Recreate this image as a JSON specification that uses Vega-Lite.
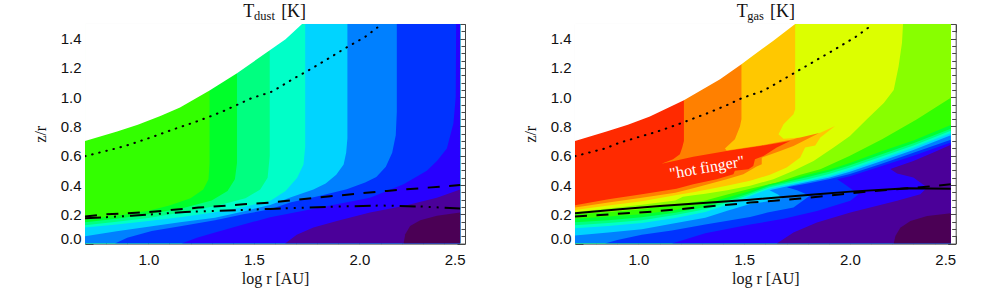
{"$schema":"https://vega.github.io/schema/vega-lite/v6.json","background":"white","padding":{"left":32,"top":2,"right":0,"bottom":0},"bounds":"flush","spacing":110,"resolve":{"scale":{"color":"independent"}},"config":{"view":{"stroke":null},"axis":{"grid":false,"domainColor":"#444","tickColor":"#444","domainWidth":1,"tickWidth":1,"labelFont":"Liberation Sans","labelFontSize":15,"labelColor":"#111","titleFont":"Liberation Serif","titleFontSize":16,"titleFontWeight":"normal","titleColor":"#111","zindex":1}},
"datasets":{
"dustAreas":[
{"level":"d0","o":1,"x":0.7,"y":0},{"level":"d0","o":2,"x":2.477,"y":0},{"level":"d0","o":3,"x":2.477,"y":1.5},{"level":"d0","o":4,"x":0.7,"y":1.5},
{"level":"d1","o":1,"x":1.29,"y":1.5},{"level":"d1","o":2,"x":1.29,"y":0.55},{"level":"d1","o":3,"x":1.285,"y":0.44},{"level":"d1","o":4,"x":1.26,"y":0.37},{"level":"d1","o":5,"x":1.2,"y":0.31},{"level":"d1","o":6,"x":1.1,"y":0.26},{"level":"d1","o":7,"x":1.0,"y":0.225},{"level":"d1","o":8,"x":0.85,"y":0.19},{"level":"d1","o":9,"x":0.7,"y":0.165},{"level":"d1","o":10,"x":0.7,"y":0},{"level":"d1","o":11,"x":2.477,"y":0},{"level":"d1","o":12,"x":2.477,"y":1.5},
{"level":"d2","o":1,"x":1.42,"y":1.5},{"level":"d2","o":2,"x":1.42,"y":0.55},{"level":"d2","o":3,"x":1.41,"y":0.44},{"level":"d2","o":4,"x":1.375,"y":0.36},{"level":"d2","o":5,"x":1.3,"y":0.295},{"level":"d2","o":6,"x":1.17,"y":0.245},{"level":"d2","o":7,"x":1.0,"y":0.2},{"level":"d2","o":8,"x":0.85,"y":0.17},{"level":"d2","o":9,"x":0.7,"y":0.145},{"level":"d2","o":10,"x":0.7,"y":0},{"level":"d2","o":11,"x":2.477,"y":0},{"level":"d2","o":12,"x":2.477,"y":1.5},
{"level":"d3","o":1,"x":1.575,"y":1.5},{"level":"d3","o":2,"x":1.575,"y":0.6},{"level":"d3","o":3,"x":1.565,"y":0.45},{"level":"d3","o":4,"x":1.53,"y":0.37},{"level":"d3","o":5,"x":1.46,"y":0.31},{"level":"d3","o":6,"x":1.33,"y":0.26},{"level":"d3","o":7,"x":1.17,"y":0.215},{"level":"d3","o":8,"x":1.0,"y":0.175},{"level":"d3","o":9,"x":0.85,"y":0.15},{"level":"d3","o":10,"x":0.7,"y":0.125},{"level":"d3","o":11,"x":0.7,"y":0},{"level":"d3","o":12,"x":2.477,"y":0},{"level":"d3","o":13,"x":2.477,"y":1.5},
{"level":"d4","o":1,"x":1.743,"y":1.5},{"level":"d4","o":2,"x":1.743,"y":0.66},{"level":"d4","o":3,"x":1.735,"y":0.54},{"level":"d4","o":4,"x":1.705,"y":0.45},{"level":"d4","o":5,"x":1.65,"y":0.36},{"level":"d4","o":6,"x":1.58,"y":0.295},{"level":"d4","o":7,"x":1.45,"y":0.25},{"level":"d4","o":8,"x":1.3,"y":0.21},{"level":"d4","o":9,"x":1.15,"y":0.18},{"level":"d4","o":10,"x":1.0,"y":0.155},{"level":"d4","o":11,"x":0.85,"y":0.13},{"level":"d4","o":12,"x":0.7,"y":0.11},{"level":"d4","o":13,"x":0.7,"y":0},{"level":"d4","o":14,"x":2.477,"y":0},{"level":"d4","o":15,"x":2.477,"y":1.5},
{"level":"d5","o":1,"x":1.943,"y":1.5},{"level":"d5","o":2,"x":1.943,"y":0.72},{"level":"d5","o":3,"x":1.937,"y":0.62},{"level":"d5","o":4,"x":1.925,"y":0.54},{"level":"d5","o":5,"x":1.89,"y":0.47},{"level":"d5","o":6,"x":1.84,"y":0.41},{"level":"d5","o":7,"x":1.782,"y":0.37},{"level":"d5","o":8,"x":1.672,"y":0.315},{"level":"d5","o":9,"x":1.577,"y":0.264},{"level":"d5","o":10,"x":1.45,"y":0.22},{"level":"d5","o":11,"x":1.316,"y":0.177},{"level":"d5","o":12,"x":1.15,"y":0.145},{"level":"d5","o":13,"x":1.0,"y":0.115},{"level":"d5","o":14,"x":0.85,"y":0.085},{"level":"d5","o":15,"x":0.7,"y":0.05},{"level":"d5","o":16,"x":0.7,"y":0},{"level":"d5","o":17,"x":2.477,"y":0},{"level":"d5","o":18,"x":2.477,"y":1.5},
{"level":"d6","o":1,"x":2.177,"y":1.5},{"level":"d6","o":2,"x":2.177,"y":0.9},{"level":"d6","o":3,"x":2.172,"y":0.74},{"level":"d6","o":4,"x":2.155,"y":0.62},{"level":"d6","o":5,"x":2.125,"y":0.525},{"level":"d6","o":6,"x":2.08,"y":0.455},{"level":"d6","o":7,"x":2.027,"y":0.417},{"level":"d6","o":8,"x":1.94,"y":0.371},{"level":"d6","o":9,"x":1.814,"y":0.326},{"level":"d6","o":10,"x":1.672,"y":0.28},{"level":"d6","o":11,"x":1.577,"y":0.235},{"level":"d6","o":12,"x":1.45,"y":0.2},{"level":"d6","o":13,"x":1.316,"y":0.16},{"level":"d6","o":14,"x":1.158,"y":0.12},{"level":"d6","o":15,"x":1.016,"y":0.086},{"level":"d6","o":16,"x":0.9,"y":0.04},{"level":"d6","o":17,"x":0.842,"y":0},{"level":"d6","o":18,"x":2.477,"y":0},{"level":"d6","o":19,"x":2.477,"y":1.5},
{"level":"d7","o":1,"x":2.458,"y":1.5},{"level":"d7","o":2,"x":2.456,"y":1.0},{"level":"d7","o":3,"x":2.445,"y":0.82},{"level":"d7","o":4,"x":2.414,"y":0.65},{"level":"d7","o":5,"x":2.367,"y":0.565},{"level":"d7","o":6,"x":2.319,"y":0.497},{"level":"d7","o":7,"x":2.209,"y":0.405},{"level":"d7","o":8,"x":2.05,"y":0.314},{"level":"d7","o":9,"x":1.814,"y":0.246},{"level":"d7","o":10,"x":1.577,"y":0.18},{"level":"d7","o":11,"x":1.45,"y":0.13},{"level":"d7","o":12,"x":1.316,"y":0.075},{"level":"d7","o":13,"x":1.23,"y":0.04},{"level":"d7","o":14,"x":1.158,"y":0},{"level":"d7","o":15,"x":2.477,"y":0},{"level":"d7","o":16,"x":2.477,"y":1.5},
{"level":"d8","o":1,"x":1.648,"y":0},{"level":"d8","o":2,"x":1.703,"y":0.06},{"level":"d8","o":3,"x":1.782,"y":0.11},{"level":"d8","o":4,"x":1.893,"y":0.155},{"level":"d8","o":5,"x":2.05,"y":0.212},{"level":"d8","o":6,"x":2.209,"y":0.257},{"level":"d8","o":7,"x":2.367,"y":0.314},{"level":"d8","o":8,"x":2.477,"y":0.37},{"level":"d8","o":9,"x":2.477,"y":0},
{"level":"d9","o":1,"x":2.209,"y":0},{"level":"d9","o":2,"x":2.217,"y":0.064},{"level":"d9","o":3,"x":2.24,"y":0.12},{"level":"d9","o":4,"x":2.288,"y":0.16},{"level":"d9","o":5,"x":2.367,"y":0.19},{"level":"d9","o":6,"x":2.477,"y":0.212},{"level":"d9","o":7,"x":2.477,"y":0},
{"level":"void","o":1,"x":0.7,"y":0.7},{"level":"void","o":2,"x":0.852,"y":0.765},{"level":"void","o":3,"x":0.95,"y":0.812},{"level":"void","o":4,"x":1.057,"y":0.872},{"level":"void","o":5,"x":1.15,"y":0.93},{"level":"void","o":6,"x":1.29,"y":1.045},{"level":"void","o":7,"x":1.42,"y":1.164},{"level":"void","o":8,"x":1.577,"y":1.322},{"level":"void","o":9,"x":1.65,"y":1.395},{"level":"void","o":10,"x":1.728,"y":1.5},{"level":"void","o":11,"x":0.7,"y":1.5}
],
"gasAreas":[
{"level":"g0","o":1,"x":0.7,"y":0},{"level":"g0","o":2,"x":2.477,"y":0},{"level":"g0","o":3,"x":2.477,"y":1.5},{"level":"g0","o":4,"x":0.7,"y":1.5},
{"level":"g1","o":1,"x":1.215,"y":1.5},{"level":"g1","o":2,"x":1.215,"y":0.7},{"level":"g1","o":3,"x":1.207,"y":0.656},{"level":"g1","o":4,"x":1.196,"y":0.61},{"level":"g1","o":5,"x":1.164,"y":0.576},{"level":"g1","o":6,"x":1.109,"y":0.546},{"level":"g1","o":7,"x":1.259,"y":0.594},{"level":"g1","o":8,"x":1.417,"y":0.633},{"level":"g1","o":9,"x":1.575,"y":0.667},{"level":"g1","o":10,"x":1.717,"y":0.7},{"level":"g1","o":11,"x":1.654,"y":0.656},{"level":"g1","o":12,"x":1.591,"y":0.599},{"level":"g1","o":13,"x":1.551,"y":0.576},{"level":"g1","o":14,"x":1.543,"y":0.53},{"level":"g1","o":15,"x":1.52,"y":0.508},{"level":"g1","o":16,"x":1.456,"y":0.497},{"level":"g1","o":17,"x":1.449,"y":0.474},{"level":"g1","o":18,"x":1.37,"y":0.44},{"level":"g1","o":19,"x":1.259,"y":0.405},{"level":"g1","o":20,"x":1.18,"y":0.375},{"level":"g1","o":21,"x":1.016,"y":0.337},{"level":"g1","o":22,"x":0.858,"y":0.303},{"level":"g1","o":23,"x":0.7,"y":0.262},{"level":"g1","o":24,"x":0.7,"y":0},{"level":"g1","o":25,"x":2.477,"y":0},{"level":"g1","o":26,"x":2.477,"y":1.5},
{"level":"g2","o":1,"x":1.487,"y":1.5},{"level":"g2","o":2,"x":1.487,"y":0.85},{"level":"g2","o":3,"x":1.48,"y":0.8},{"level":"g2","o":4,"x":1.456,"y":0.713},{"level":"g2","o":5,"x":1.409,"y":0.649},{"level":"g2","o":6,"x":1.417,"y":0.636},{"level":"g2","o":7,"x":1.575,"y":0.67},{"level":"g2","o":8,"x":1.733,"y":0.712},{"level":"g2","o":9,"x":1.891,"y":0.79},{"level":"g2","o":10,"x":1.843,"y":0.747},{"level":"g2","o":11,"x":1.733,"y":0.667},{"level":"g2","o":12,"x":1.67,"y":0.633},{"level":"g2","o":13,"x":1.583,"y":0.587},{"level":"g2","o":14,"x":1.583,"y":0.542},{"level":"g2","o":15,"x":1.559,"y":0.526},{"level":"g2","o":16,"x":1.496,"y":0.474},{"level":"g2","o":17,"x":1.417,"y":0.44},{"level":"g2","o":18,"x":1.259,"y":0.378},{"level":"g2","o":19,"x":1.174,"y":0.348},{"level":"g2","o":20,"x":1.016,"y":0.314},{"level":"g2","o":21,"x":0.858,"y":0.28},{"level":"g2","o":22,"x":0.7,"y":0.246},{"level":"g2","o":23,"x":0.7,"y":0},{"level":"g2","o":24,"x":2.477,"y":0},{"level":"g2","o":25,"x":2.477,"y":1.5},
{"level":"g3","o":1,"x":1.741,"y":1.5},{"level":"g3","o":2,"x":1.741,"y":0.917},{"level":"g3","o":3,"x":1.733,"y":0.884},{"level":"g3","o":4,"x":1.686,"y":0.815},{"level":"g3","o":5,"x":1.662,"y":0.747},{"level":"g3","o":6,"x":1.686,"y":0.717},{"level":"g3","o":7,"x":1.765,"y":0.724},{"level":"g3","o":8,"x":1.86,"y":0.758},{"level":"g3","o":9,"x":1.93,"y":0.803},{"level":"g3","o":10,"x":1.86,"y":0.724},{"level":"g3","o":11,"x":1.836,"y":0.67},{"level":"g3","o":12,"x":1.788,"y":0.656},{"level":"g3","o":13,"x":1.765,"y":0.588},{"level":"g3","o":14,"x":1.701,"y":0.519},{"level":"g3","o":15,"x":1.622,"y":0.47},{"level":"g3","o":16,"x":1.528,"y":0.43},{"level":"g3","o":17,"x":1.417,"y":0.395},{"level":"g3","o":18,"x":1.259,"y":0.35},{"level":"g3","o":19,"x":1.174,"y":0.33},{"level":"g3","o":20,"x":1.016,"y":0.29},{"level":"g3","o":21,"x":0.858,"y":0.26},{"level":"g3","o":22,"x":0.7,"y":0.23},{"level":"g3","o":23,"x":0.7,"y":0},{"level":"g3","o":24,"x":2.477,"y":0},{"level":"g3","o":25,"x":2.477,"y":1.5},
{"level":"g4","o":1,"x":2.251,"y":1.5},{"level":"g4","o":2,"x":2.246,"y":1.37},{"level":"g4","o":3,"x":2.23,"y":1.21},{"level":"g4","o":4,"x":2.207,"y":1.05},{"level":"g4","o":5,"x":2.16,"y":0.96},{"level":"g4","o":6,"x":2.08,"y":0.85},{"level":"g4","o":7,"x":2.0,"y":0.735},{"level":"g4","o":8,"x":1.923,"y":0.656},{"level":"g4","o":9,"x":1.828,"y":0.565},{"level":"g4","o":10,"x":1.733,"y":0.497},{"level":"g4","o":11,"x":1.638,"y":0.44},{"level":"g4","o":12,"x":1.528,"y":0.395},{"level":"g4","o":13,"x":1.42,"y":0.365},{"level":"g4","o":14,"x":1.316,"y":0.34},{"level":"g4","o":15,"x":1.26,"y":0.33},{"level":"g4","o":16,"x":1.21,"y":0.32},{"level":"g4","o":17,"x":1.174,"y":0.295},{"level":"g4","o":18,"x":1.016,"y":0.265},{"level":"g4","o":19,"x":0.858,"y":0.24},{"level":"g4","o":20,"x":0.7,"y":0.215},{"level":"g4","o":21,"x":0.7,"y":0},{"level":"g4","o":22,"x":2.477,"y":0},{"level":"g4","o":23,"x":2.477,"y":1.5},
{"level":"g5","o":1,"x":2.477,"y":0.997},{"level":"g5","o":2,"x":2.317,"y":0.849},{"level":"g5","o":3,"x":2.152,"y":0.713},{"level":"g5","o":4,"x":2.0,"y":0.6},{"level":"g5","o":5,"x":1.86,"y":0.508},{"level":"g5","o":6,"x":1.765,"y":0.47},{"level":"g5","o":7,"x":1.65,"y":0.415},{"level":"g5","o":8,"x":1.528,"y":0.375},{"level":"g5","o":9,"x":1.42,"y":0.335},{"level":"g5","o":10,"x":1.316,"y":0.295},{"level":"g5","o":11,"x":1.174,"y":0.265},{"level":"g5","o":12,"x":1.016,"y":0.235},{"level":"g5","o":13,"x":0.858,"y":0.215},{"level":"g5","o":14,"x":0.7,"y":0.2},{"level":"g5","o":15,"x":0.7,"y":0},{"level":"g5","o":16,"x":2.477,"y":0},
{"level":"g6","o":1,"x":2.477,"y":0.81},{"level":"g6","o":2,"x":2.3,"y":0.705},{"level":"g6","o":3,"x":2.15,"y":0.63},{"level":"g6","o":4,"x":2.0,"y":0.55},{"level":"g6","o":5,"x":1.9,"y":0.505},{"level":"g6","o":6,"x":1.8,"y":0.47},{"level":"g6","o":7,"x":1.7,"y":0.43},{"level":"g6","o":8,"x":1.62,"y":0.405},{"level":"g6","o":9,"x":1.528,"y":0.36},{"level":"g6","o":10,"x":1.42,"y":0.315},{"level":"g6","o":11,"x":1.316,"y":0.27},{"level":"g6","o":12,"x":1.174,"y":0.23},{"level":"g6","o":13,"x":1.016,"y":0.2},{"level":"g6","o":14,"x":0.858,"y":0.185},{"level":"g6","o":15,"x":0.7,"y":0.17},{"level":"g6","o":16,"x":0.7,"y":0},{"level":"g6","o":17,"x":2.477,"y":0},
{"level":"g7","o":1,"x":2.477,"y":0.785},{"level":"g7","o":2,"x":2.3,"y":0.685},{"level":"g7","o":3,"x":2.15,"y":0.61},{"level":"g7","o":4,"x":2.0,"y":0.535},{"level":"g7","o":5,"x":1.9,"y":0.49},{"level":"g7","o":6,"x":1.8,"y":0.455},{"level":"g7","o":7,"x":1.7,"y":0.42},{"level":"g7","o":8,"x":1.62,"y":0.395},{"level":"g7","o":9,"x":1.528,"y":0.345},{"level":"g7","o":10,"x":1.42,"y":0.295},{"level":"g7","o":11,"x":1.316,"y":0.25},{"level":"g7","o":12,"x":1.174,"y":0.21},{"level":"g7","o":13,"x":1.016,"y":0.18},{"level":"g7","o":14,"x":0.858,"y":0.16},{"level":"g7","o":15,"x":0.7,"y":0.145},{"level":"g7","o":16,"x":0.7,"y":0},{"level":"g7","o":17,"x":2.477,"y":0},
{"level":"g8","o":1,"x":2.477,"y":0.77},{"level":"g8","o":2,"x":2.3,"y":0.67},{"level":"g8","o":3,"x":2.15,"y":0.595},{"level":"g8","o":4,"x":2.0,"y":0.52},{"level":"g8","o":5,"x":1.9,"y":0.475},{"level":"g8","o":6,"x":1.8,"y":0.44},{"level":"g8","o":7,"x":1.7,"y":0.41},{"level":"g8","o":8,"x":1.62,"y":0.385},{"level":"g8","o":9,"x":1.528,"y":0.335},{"level":"g8","o":10,"x":1.42,"y":0.28},{"level":"g8","o":11,"x":1.316,"y":0.235},{"level":"g8","o":12,"x":1.174,"y":0.195},{"level":"g8","o":13,"x":1.016,"y":0.16},{"level":"g8","o":14,"x":0.858,"y":0.14},{"level":"g8","o":15,"x":0.7,"y":0.125},{"level":"g8","o":16,"x":0.7,"y":0},{"level":"g8","o":17,"x":2.477,"y":0},
{"level":"g9","o":1,"x":2.477,"y":0.755},{"level":"g9","o":2,"x":2.3,"y":0.655},{"level":"g9","o":3,"x":2.15,"y":0.58},{"level":"g9","o":4,"x":2.0,"y":0.505},{"level":"g9","o":5,"x":1.9,"y":0.46},{"level":"g9","o":6,"x":1.8,"y":0.43},{"level":"g9","o":7,"x":1.7,"y":0.4},{"level":"g9","o":8,"x":1.62,"y":0.375},{"level":"g9","o":9,"x":1.528,"y":0.325},{"level":"g9","o":10,"x":1.42,"y":0.265},{"level":"g9","o":11,"x":1.316,"y":0.215},{"level":"g9","o":12,"x":1.174,"y":0.175},{"level":"g9","o":13,"x":1.016,"y":0.14},{"level":"g9","o":14,"x":0.858,"y":0.12},{"level":"g9","o":15,"x":0.7,"y":0.105},{"level":"g9","o":16,"x":0.7,"y":0},{"level":"g9","o":17,"x":2.477,"y":0},
{"level":"g10","o":1,"x":2.477,"y":0.74},{"level":"g10","o":2,"x":2.3,"y":0.64},{"level":"g10","o":3,"x":2.15,"y":0.565},{"level":"g10","o":4,"x":2.0,"y":0.49},{"level":"g10","o":5,"x":1.9,"y":0.45},{"level":"g10","o":6,"x":1.8,"y":0.42},{"level":"g10","o":7,"x":1.7,"y":0.39},{"level":"g10","o":8,"x":1.62,"y":0.365},{"level":"g10","o":9,"x":1.66,"y":0.335},{"level":"g10","o":10,"x":1.68,"y":0.31},{"level":"g10","o":11,"x":1.6,"y":0.285},{"level":"g10","o":12,"x":1.528,"y":0.27},{"level":"g10","o":13,"x":1.42,"y":0.225},{"level":"g10","o":14,"x":1.316,"y":0.177},{"level":"g10","o":15,"x":1.158,"y":0.135},{"level":"g10","o":16,"x":1.016,"y":0.098},{"level":"g10","o":17,"x":0.858,"y":0.075},{"level":"g10","o":18,"x":0.7,"y":0.055},{"level":"g10","o":19,"x":0.7,"y":0},{"level":"g10","o":20,"x":2.477,"y":0},
{"level":"g11","o":1,"x":2.477,"y":0.71},{"level":"g11","o":2,"x":2.3,"y":0.62},{"level":"g11","o":3,"x":2.15,"y":0.545},{"level":"g11","o":4,"x":2.0,"y":0.475},{"level":"g11","o":5,"x":1.9,"y":0.44},{"level":"g11","o":6,"x":1.8,"y":0.41},{"level":"g11","o":7,"x":1.702,"y":0.385},{"level":"g11","o":8,"x":1.75,"y":0.365},{"level":"g11","o":9,"x":1.81,"y":0.326},{"level":"g11","o":10,"x":1.733,"y":0.246},{"level":"g11","o":11,"x":1.61,"y":0.212},{"level":"g11","o":12,"x":1.528,"y":0.182},{"level":"g11","o":13,"x":1.316,"y":0.13},{"level":"g11","o":14,"x":1.158,"y":0.09},{"level":"g11","o":15,"x":1.016,"y":0.06},{"level":"g11","o":16,"x":0.9,"y":0.025},{"level":"g11","o":17,"x":0.842,"y":0},{"level":"g11","o":18,"x":2.477,"y":0},
{"level":"g12","o":1,"x":2.477,"y":0.69},{"level":"g12","o":2,"x":2.3,"y":0.6},{"level":"g12","o":3,"x":2.15,"y":0.53},{"level":"g12","o":4,"x":2.0,"y":0.46},{"level":"g12","o":5,"x":1.939,"y":0.44},{"level":"g12","o":6,"x":1.97,"y":0.41},{"level":"g12","o":7,"x":2.041,"y":0.337},{"level":"g12","o":8,"x":2.002,"y":0.292},{"level":"g12","o":9,"x":1.844,"y":0.223},{"level":"g12","o":10,"x":1.686,"y":0.17},{"level":"g12","o":11,"x":1.528,"y":0.13},{"level":"g12","o":12,"x":1.316,"y":0.07},{"level":"g12","o":13,"x":1.158,"y":0},{"level":"g12","o":14,"x":2.477,"y":0},
{"level":"g13","o":1,"x":2.477,"y":0.675},{"level":"g13","o":2,"x":2.4,"y":0.625},{"level":"g13","o":3,"x":2.3,"y":0.565},{"level":"g13","o":4,"x":2.191,"y":0.51},{"level":"g13","o":5,"x":2.223,"y":0.478},{"level":"g13","o":6,"x":2.3,"y":0.451},{"level":"g13","o":7,"x":2.365,"y":0.383},{"level":"g13","o":8,"x":2.333,"y":0.337},{"level":"g13","o":9,"x":2.223,"y":0.292},{"level":"g13","o":10,"x":2.002,"y":0.212},{"level":"g13","o":11,"x":1.844,"y":0.144},{"level":"g13","o":12,"x":1.733,"y":0.075},{"level":"g13","o":13,"x":1.654,"y":0},{"level":"g13","o":14,"x":2.477,"y":0},
{"level":"g14","o":1,"x":2.207,"y":0},{"level":"g14","o":2,"x":2.215,"y":0.052},{"level":"g14","o":3,"x":2.238,"y":0.109},{"level":"g14","o":4,"x":2.286,"y":0.155},{"level":"g14","o":5,"x":2.365,"y":0.189},{"level":"g14","o":6,"x":2.477,"y":0.207},{"level":"g14","o":7,"x":2.477,"y":0},
{"level":"void","o":1,"x":0.7,"y":0.7},{"level":"void","o":2,"x":0.849,"y":0.765},{"level":"void","o":3,"x":0.95,"y":0.812},{"level":"void","o":4,"x":1.054,"y":0.868},{"level":"void","o":5,"x":1.215,"y":0.98},{"level":"void","o":6,"x":1.386,"y":1.122},{"level":"void","o":7,"x":1.487,"y":1.225},{"level":"void","o":8,"x":1.528,"y":1.27},{"level":"void","o":9,"x":1.638,"y":1.385},{"level":"void","o":10,"x":1.741,"y":1.5},{"level":"void","o":11,"x":0.7,"y":1.5}
],
"dustDotted":[{"x":0.7,"y":0.597},{"x":0.844,"y":0.649},{"x":0.915,"y":0.678},{"x":1.018,"y":0.728},{"x":1.12,"y":0.781},{"x":1.223,"y":0.831},{"x":1.29,"y":0.867},{"x":1.357,"y":0.906},{"x":1.424,"y":0.95},{"x":1.491,"y":0.995},{"x":1.555,"y":1.023},{"x":1.589,"y":1.04},{"x":1.682,"y":1.122},{"x":1.745,"y":1.172},{"x":1.839,"y":1.252},{"x":1.932,"y":1.334},{"x":2.027,"y":1.412},{"x":2.085,"y":1.476}],
"dustDashed":[{"x":0.7,"y":0.185},{"x":0.8,"y":0.2},{"x":1.0,"y":0.215},{"x":1.237,"y":0.246},{"x":1.45,"y":0.268},{"x":1.578,"y":0.28},{"x":1.8,"y":0.315},{"x":2.13,"y":0.36},{"x":2.477,"y":0.4}],
"dustDashDot":[{"x":0.7,"y":0.173},{"x":0.92,"y":0.19},{"x":1.174,"y":0.216},{"x":1.577,"y":0.237},{"x":1.893,"y":0.253},{"x":2.1,"y":0.26},{"x":2.3,"y":0.253},{"x":2.477,"y":0.239}],
"gasDotted":[{"x":0.7,"y":0.597},{"x":0.841,"y":0.649},{"x":0.912,"y":0.69},{"x":1.085,"y":0.763},{"x":1.188,"y":0.815},{"x":1.259,"y":0.854},{"x":1.322,"y":0.888},{"x":1.425,"y":0.95},{"x":1.488,"y":0.993},{"x":1.528,"y":1.013},{"x":1.59,"y":1.043},{"x":1.685,"y":1.122},{"x":1.748,"y":1.175},{"x":1.84,"y":1.252},{"x":1.935,"y":1.332},{"x":2.027,"y":1.412},{"x":2.088,"y":1.476}],
"gasDashed":[{"x":0.7,"y":0.185},{"x":1.07,"y":0.219},{"x":1.48,"y":0.273},{"x":1.528,"y":0.28},{"x":1.765,"y":0.308},{"x":1.939,"y":0.333},{"x":2.08,"y":0.355},{"x":2.35,"y":0.387},{"x":2.477,"y":0.405}],
"gasSolid":[{"x":0.7,"y":0.208},{"x":0.912,"y":0.235},{"x":1.101,"y":0.257},{"x":1.528,"y":0.3},{"x":1.844,"y":0.337},{"x":2.002,"y":0.355},{"x":2.27,"y":0.378},{"x":2.477,"y":0.374}],
"dustTitle":[{"x":1.449,"y":1.549,"t":"T"},{"x":1.629,"y":1.549,"t":"[K]"}],
"dustSub":[{"x":1.501,"y":1.527,"t":"dust"}],
"gasTitle":[{"x":1.465,"y":1.549,"t":"T"},{"x":1.622,"y":1.549,"t":"[K]"}],
"gasSub":[{"x":1.514,"y":1.527,"t":"gas"}],
"note":[{"x":1.324,"y":0.52,"t":"\"hot finger\""}]
},
"hconcat":[
{"width":380,"height":219.6,"resolve":{"axis":{"x":"independent","y":"independent"}},"layer":[
{"data":{"name":"dustAreas"},"mark":{"type":"line","filled":true,"clip":true,"interpolate":"linear","strokeWidth":0},"encoding":{"order":{"field":"o","type":"quantitative"},"color":{"field":"level","type":"nominal","legend":null,"sort":null,"scale":{"domain":["d0","d1","d2","d3","d4","d5","d6","d7","d8","d9","void"],"range":["#33ff00","#00ff2a","#00ff80","#00ffc8","#00d4ff","#0080ff","#0033ff","#2800ff","#4b0099","#4b0055","#ffffff"]}},"x":{"field":"x","type":"quantitative","scale":{"domain":[0.7,2.5],"nice":false,"zero":false},"axis":{"orient":"bottom","title":"log r [AU]","values":[1,1.5,2,2.5],"format":".1f","tickSize":-8,"labelPadding":17,"titlePadding":3}},"y":{"field":"y","type":"quantitative","scale":{"domain":[0,1.5],"nice":false,"zero":false},"axis":{"orient":"left","title":"z/r","values":[0,0.2,0.4,0.6,0.8,1,1.2,1.4],"format":".1f","tickSize":-8,"labelPadding":12,"titlePadding":12,"labelOffset":{"expr":"datum.value==0?-5:0"}}}}},
{"data":{"name":"dustDotted"},"mark":{"type":"line","color":"black","strokeWidth":2,"strokeDash":[0.6,6.7],"strokeCap":"round","clip":true},"encoding":{"x":{"field":"x","type":"quantitative","axis":{"orient":"bottom","title":null,"labels":false,"domain":false,"tickSize":-4,"values":[0.8,0.9,1.1,1.2,1.3,1.4,1.6,1.7,1.8,1.9,2.1,2.2,2.3,2.4]}},"y":{"field":"y","type":"quantitative","axis":{"orient":"left","title":null,"labels":false,"domain":false,"tickSize":-4,"values":[0.05,0.1,0.15,0.25,0.3,0.35,0.45,0.5,0.55,0.65,0.7,0.75,0.85,0.9,0.95,1.05,1.1,1.15,1.25,1.3,1.35,1.45]}}}},
{"data":{"name":"dustDashed"},"mark":{"type":"line","color":"black","strokeWidth":2,"strokeDash":[12,9.5],"clip":true},"encoding":{"x":{"field":"x","type":"quantitative","axis":{"orient":"top","title":null,"labels":false,"tickSize":-8,"values":[1,1.5,2,2.5]}},"y":{"field":"y","type":"quantitative","axis":{"orient":"right","title":null,"labels":false,"tickSize":-8,"values":[0,0.2,0.4,0.6,0.8,1,1.2,1.4]}}}},
{"data":{"name":"dustDashDot"},"mark":{"type":"line","color":"black","strokeWidth":2,"strokeDash":[16,5,2,6,2,6,2,6],"clip":true},"encoding":{"x":{"field":"x","type":"quantitative","axis":{"orient":"top","title":null,"labels":false,"domain":false,"tickSize":-4,"values":[0.8,0.9,1.1,1.2,1.3,1.4,1.6,1.7,1.8,1.9,2.1,2.2,2.3,2.4]}},"y":{"field":"y","type":"quantitative","axis":{"orient":"right","title":null,"labels":false,"domain":false,"tickSize":-4,"values":[0.05,0.1,0.15,0.25,0.3,0.35,0.45,0.5,0.55,0.65,0.7,0.75,0.85,0.9,0.95,1.05,1.1,1.15,1.25,1.3,1.35,1.45]}}}},
{"data":{"name":"dustTitle"},"mark":{"type":"text","font":"Liberation Serif","fontSize":18,"align":"left","baseline":"alphabetic","color":"#111"},"encoding":{"x":{"field":"x","type":"quantitative","axis":null},"y":{"field":"y","type":"quantitative","axis":null},"text":{"field":"t"}}},
{"data":{"name":"dustSub"},"mark":{"type":"text","font":"Liberation Serif","fontSize":12.5,"align":"left","baseline":"alphabetic","color":"#111"},"encoding":{"x":{"field":"x","type":"quantitative","axis":null},"y":{"field":"y","type":"quantitative","axis":null},"text":{"field":"t"}}}
]},
{"width":380.7,"height":219.6,"resolve":{"axis":{"x":"independent","y":"independent"}},"layer":[
{"data":{"name":"gasAreas"},"mark":{"type":"line","filled":true,"clip":true,"interpolate":"linear","strokeWidth":0},"encoding":{"order":{"field":"o","type":"quantitative"},"color":{"field":"level","type":"nominal","legend":null,"sort":null,"scale":{"domain":["g0","g1","g2","g3","g4","g5","g6","g7","g8","g9","g10","g11","g12","g13","g14","void"],"range":["#ff2a00","#ff8000","#ffc800","#dcff00","#88ff00","#33ff00","#00ff33","#00ff80","#00ffc8","#00d4ff","#0080ff","#0033ff","#2800ff","#4b0099","#4b0055","#ffffff"]}},"x":{"field":"x","type":"quantitative","scale":{"domain":[0.7,2.5],"nice":false,"zero":false},"axis":{"orient":"bottom","title":"log r [AU]","values":[1,1.5,2,2.5],"format":".1f","tickSize":-8,"labelPadding":17,"titlePadding":3}},"y":{"field":"y","type":"quantitative","scale":{"domain":[0,1.5],"nice":false,"zero":false},"axis":{"orient":"left","title":"z/r","values":[0,0.2,0.4,0.6,0.8,1,1.2,1.4],"format":".1f","tickSize":-8,"labelPadding":12,"titlePadding":12,"labelOffset":{"expr":"datum.value==0?-5:0"}}}}},
{"data":{"name":"gasDotted"},"mark":{"type":"line","color":"black","strokeWidth":2,"strokeDash":[0.6,6.7],"strokeCap":"round","clip":true},"encoding":{"x":{"field":"x","type":"quantitative","axis":{"orient":"bottom","title":null,"labels":false,"domain":false,"tickSize":-4,"values":[0.8,0.9,1.1,1.2,1.3,1.4,1.6,1.7,1.8,1.9,2.1,2.2,2.3,2.4]}},"y":{"field":"y","type":"quantitative","axis":{"orient":"left","title":null,"labels":false,"domain":false,"tickSize":-4,"values":[0.05,0.1,0.15,0.25,0.3,0.35,0.45,0.5,0.55,0.65,0.7,0.75,0.85,0.9,0.95,1.05,1.1,1.15,1.25,1.3,1.35,1.45]}}}},
{"data":{"name":"gasDashed"},"mark":{"type":"line","color":"black","strokeWidth":2,"strokeDash":[12,9.5],"clip":true},"encoding":{"x":{"field":"x","type":"quantitative","axis":{"orient":"top","title":null,"labels":false,"tickSize":-8,"values":[1,1.5,2,2.5]}},"y":{"field":"y","type":"quantitative","axis":{"orient":"right","title":null,"labels":false,"tickSize":-8,"values":[0,0.2,0.4,0.6,0.8,1,1.2,1.4]}}}},
{"data":{"name":"gasSolid"},"mark":{"type":"line","color":"black","strokeWidth":2,"clip":true},"encoding":{"x":{"field":"x","type":"quantitative","axis":{"orient":"top","title":null,"labels":false,"domain":false,"tickSize":-4,"values":[0.8,0.9,1.1,1.2,1.3,1.4,1.6,1.7,1.8,1.9,2.1,2.2,2.3,2.4]}},"y":{"field":"y","type":"quantitative","axis":{"orient":"right","title":null,"labels":false,"domain":false,"tickSize":-4,"values":[0.05,0.1,0.15,0.25,0.3,0.35,0.45,0.5,0.55,0.65,0.7,0.75,0.85,0.9,0.95,1.05,1.1,1.15,1.25,1.3,1.35,1.45]}}}},
{"data":{"name":"gasTitle"},"mark":{"type":"text","font":"Liberation Serif","fontSize":18,"align":"left","baseline":"alphabetic","color":"#111"},"encoding":{"x":{"field":"x","type":"quantitative","axis":null},"y":{"field":"y","type":"quantitative","axis":null},"text":{"field":"t"}}},
{"data":{"name":"gasSub"},"mark":{"type":"text","font":"Liberation Serif","fontSize":12.5,"align":"left","baseline":"alphabetic","color":"#111"},"encoding":{"x":{"field":"x","type":"quantitative","axis":null},"y":{"field":"y","type":"quantitative","axis":null},"text":{"field":"t"}}},
{"data":{"name":"note"},"mark":{"type":"text","font":"Liberation Serif","fontSize":16,"angle":350,"color":"white"},"encoding":{"x":{"field":"x","type":"quantitative","axis":null},"y":{"field":"y","type":"quantitative","axis":null},"text":{"field":"t"}}}
]}
]}
